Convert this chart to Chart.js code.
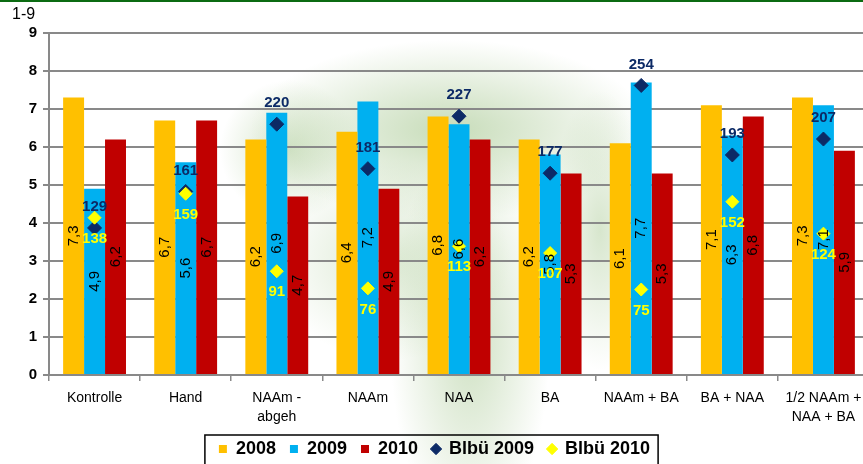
<!DOCTYPE html>
<html>
<head>
<meta charset="utf-8">
<script src="https://cdn.jsdelivr.net/npm/chart.js@4/dist/chart.umd.min.js"></script>
<style>
  html, body { margin: 0; padding: 0; background: #fff; overflow: hidden; }
  #wrap {
    position: relative; width: 863px; height: 464px; overflow: hidden;
    background:
      radial-gradient(ellipse 200px 90px at 450px 130px, rgba(175,205,155,0.7), rgba(175,205,155,0) 100%),
      radial-gradient(ellipse 80px 200px at 470px 340px, rgba(175,205,155,0.6), rgba(175,205,155,0) 100%),
      radial-gradient(ellipse 70px 70px at 290px 150px, rgba(175,205,155,0.55), rgba(175,205,155,0) 100%),
      radial-gradient(ellipse 50px 140px at 600px 230px, rgba(175,205,155,0.5), rgba(175,205,155,0) 100%),
      radial-gradient(ellipse 120px 100px at 390px 260px, rgba(175,205,155,0.45), rgba(175,205,155,0) 100%);
  }
  #topline { position: absolute; left: 0; top: 0; width: 863px; height: 2px; background: #0b6b12; }
  canvas { position: absolute; left: 0; top: 0; }
</style>
</head>
<body>
<div id="wrap">
  <!-- a few px wider than the window: the original plot area runs past its right edge -->
  <canvas id="chart" width="869" height="464"></canvas>
  <div id="topline"></div>
</div>
<script>
const categories = ['Kontrolle', 'Hand', ['NAAm -', 'abgeh'], 'NAAm', 'NAA', 'BA', 'NAAm + BA', 'BA + NAA', ['1/2 NAAm +', 'NAA + BA']];
const values2008 = [7.3, 6.7, 6.2, 6.4, 6.8, 6.2, 6.1, 7.1, 7.3];
const values2009 = [4.9, 5.6, 6.9, 7.2, 6.6, 5.8, 7.7, 6.3, 7.1];
const values2010 = [6.2, 6.7, 4.7, 4.9, 6.2, 5.3, 5.3, 6.8, 5.9];
const blbu2009 = [129, 161, 220, 181, 227, 177, 254, 193, 207];
const blbu2010 = [138, 159, 91, 76, 113, 107, 75, 152, 124];
const yTicks = [0, 1, 2, 3, 4, 5, 6, 7, 8, 9];

const FONT = '"Liberation Sans", Arial, sans-serif';
const NAVY = '#0c2a66';
const YELLOW = '#ffff00';

// value labels: rotated numbers inside the bars, Blbü numbers above/below the diamonds
const valueLabels = {
  id: 'valueLabels',
  afterDatasetsDraw(chart) {
    const ctx = chart.ctx;
    chart.data.datasets.forEach((ds, i) => {
      const meta = chart.getDatasetMeta(i);
      meta.data.forEach((el, j) => {
        const v = ds.data[j];
        ctx.save();
        ctx.textAlign = 'center';
        ctx.textBaseline = 'middle';
        if (meta.type === 'bar') {
          ctx.translate(el.x, (el.y + el.base) / 2);
          ctx.rotate(-Math.PI / 2);
          ctx.font = '15px ' + FONT;
          ctx.fillStyle = '#000';
          ctx.fillText(v.toFixed(1).replace('.', ','), 0, 0);
        } else {
          ctx.font = 'bold 15px ' + FONT;
          ctx.fillStyle = ds.backgroundColor;
          const dy = ds.backgroundColor === NAVY ? -21 : 21;
          ctx.fillText(String(v), el.x, el.y + dy);
        }
        ctx.restore();
      });
    });
  }
};

// "1-9" unit text and the frame around the legend
const extras = {
  id: 'extras',
  afterDraw(chart) {
    const ctx = chart.ctx;
    ctx.save();
    ctx.font = '16px ' + FONT;
    ctx.fillStyle = '#000';
    ctx.textBaseline = 'middle';
    ctx.fillText('1-9', 12, 15);

    const boxes = chart.legend.legendHitBoxes;
    if (boxes.length) {
      const l = Math.min(...boxes.map(b => b.left)) - 14;
      const r = Math.max(...boxes.map(b => b.left + b.width)) + 8;
      const t = Math.min(...boxes.map(b => b.top)) - 5;
      ctx.strokeStyle = '#000';
      ctx.lineWidth = 1.5;
      ctx.strokeRect(l, t, r - l, 40);
    }
    ctx.restore();
  }
};

new Chart(document.getElementById('chart'), {
  type: 'bar',
  data: {
    labels: categories,
    datasets: [
      { label: '2008', data: values2008, backgroundColor: '#ffc000', pointStyle: 'rect', order: 2 },
      { label: '2009', data: values2009, backgroundColor: '#00b0f0', pointStyle: 'rect', order: 2 },
      { label: '2010', data: values2010, backgroundColor: '#c00000', pointStyle: 'rect', order: 2 },
      {
        type: 'line', label: 'Blbü 2009', data: blbu2009, yAxisID: 'y2', showLine: false,
        pointStyle: 'rectRot', pointRadius: 7, backgroundColor: NAVY, borderColor: NAVY, borderWidth: 1, order: 1
      },
      {
        type: 'line', label: 'Blbü 2010', data: blbu2010, yAxisID: 'y2', showLine: false,
        pointStyle: 'rectRot', pointRadius: 6.5, backgroundColor: YELLOW, borderColor: YELLOW, borderWidth: 1, order: 0
      }
    ]
  },
  options: {
    responsive: false,
    animation: false,
    layout: { autoPadding: false, padding: { top: 33, right: 0, bottom: -4, left: 0 } },
    datasets: { bar: { categoryPercentage: 0.69, barPercentage: 1.0, borderWidth: 0 } },
    plugins: {
      tooltip: { enabled: false },
      legend: {
        position: 'bottom',
        labels: {
          usePointStyle: true,
          boxWidth: 8,
          boxHeight: 8,
          padding: 14,
          color: '#000',
          font: { family: FONT, size: 18, weight: 'bold' },
          sort: (a, b) => a.datasetIndex - b.datasetIndex
        }
      }
    },
    scales: {
      x: {
        afterFit: s => { s.height = 51; s.paddingLeft = 0; s.paddingRight = 0; },
        grid: { display: true, drawOnChartArea: false, tickLength: 6, color: '#898989', lineWidth: 1.5 },
        border: { display: true, color: '#898989', width: 2 },
        ticks: { color: '#000', font: { family: FONT, size: 14, lineHeight: 1.36 }, padding: 8, maxRotation: 0, autoSkip: false }
      },
      y: {
        min: 0, max: 9,
        afterFit: s => { s.width = 49; },
        afterBuildTicks: s => { s.ticks = yTicks.map(v => ({ value: v })); },
        grid: { color: '#898989', lineWidth: 2, tickLength: 6 },
        border: { display: true, color: '#898989', width: 2 },
        ticks: { color: '#000', font: { family: FONT, size: 15, weight: 'bold' }, padding: 6 }
      },
      y2: {
        display: false, position: 'right', min: 0, max: 300,
        afterFit: s => { s.width = 0; }
      }
    }
  },
  plugins: [valueLabels, extras]
});
</script>
</body>
</html>
